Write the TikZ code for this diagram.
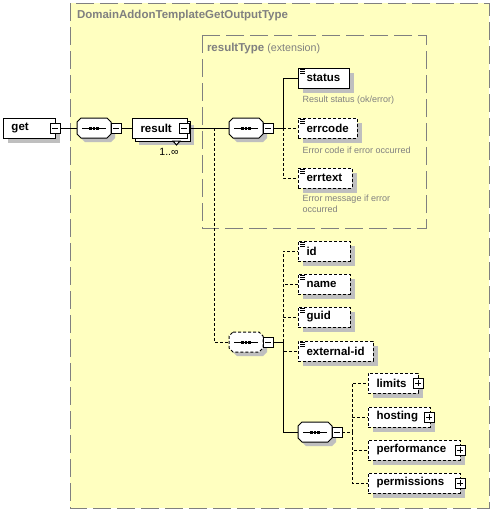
\documentclass[tikz,border=0pt]{standalone}
\usepackage{fontspec}
\setmainfont{Liberation Sans}
\definecolor{bgyellow}{RGB}{255,255,192}
\definecolor{framegray}{RGB}{128,128,128}
\definecolor{shgray}{rgb}{0.75,0.75,0.75}
\definecolor{descgray}{RGB}{128,128,128}
\newcommand\lblfnt{\fontsize{11.5}{13}\selectfont\bfseries\hyphenpenalty=10000\relax\exhyphenpenalty=10000\relax}
\newcommand\dscfnt{\fontsize{9}{11}\selectfont}
% shadow of a box given by its left x, centre y and width (picture units, y down)
\newcommand\shadowbox[4]{\fill[fill=shgray] ({#1+#4},{#2-10+#4}) rectangle ({#1+#3+#4},{#2+10+#4});}
% octagon centred at (#2,#3), 34 x 20, corners cut by 4
\newcommand\octo[3][]{\draw[#1] ({#2-13},{#3-10}) -- ({#2+13},{#3-10}) -- ({#2+17},{#3-6}) -- ({#2+17},{#3+6}) -- ({#2+13},{#3+10}) -- ({#2-13},{#3+10}) -- ({#2-17},{#3+6}) -- ({#2-17},{#3-6}) -- cycle;}
\newcommand\seqdraw[3][]{%
  \octo[fill=shgray, draw=none]{#2+4}{#3+4}%
  \octo[line width=1pt, fill=white, draw=black, #1]{#2}{#3}%
  \draw[line width=1pt] ({#2-12},#3) -- ({#2+12},#3);%
  \foreach \dx in {-3.6,0,3.6}{\fill[black] ({#2+\dx-1.3},{#3-1.5}) rectangle ({#2+\dx+1.3},{#3+1.5});}}
\begin{document}
\begin{tikzpicture}[x=1pt,y=-1pt,
  every node/.style={outer sep=0pt},
  lbl/.style={font=\lblfnt},
  dsc/.style={font=\dscfnt, text=descgray, inner sep=0pt, align=left},
  elem/.style={rectangle, draw=black, fill=white, line width=1pt, minimum height=20pt,
    inner ysep=0pt, inner xsep=8.5pt, text width=#1, align=left, lbl, anchor=west},
  opt/.style={dash pattern=on 3pt off 2pt},
  icon/.style={path picture={
    \foreach \d in {1,3,5}{\draw[black, line width=1pt, solid] ([shift={(2pt,-\d pt)}]path picture bounding box.north west) -- ++(5,0);}}},
  pmbox/.style={rectangle, draw=black, fill=white, line width=1pt, minimum size=10pt, inner sep=0pt, solid},
  minus/.style={pmbox, path picture={\draw[black, line width=1pt] ([xshift=-3pt]path picture bounding box.center) -- ([xshift=3pt]path picture bounding box.center);}},
  plus/.style={pmbox, path picture={\draw[black, line width=1pt] ([xshift=-3pt]path picture bounding box.center) -- ([xshift=3pt]path picture bounding box.center);
     \draw[black, line width=1pt] ([yshift=-3pt]path picture bounding box.center) -- ([yshift=3pt]path picture bounding box.center);}},
  seq/.style={rectangle, minimum width=34pt, minimum height=20pt, inner sep=0pt},
  wire/.style={line width=1pt, black},
  owire/.style={wire, dash pattern=on 3pt off 2pt},
  grp/.style={draw=framegray, line width=1pt, dash pattern=on 18pt off 6pt},
]
\useasboundingbox (0,0) rectangle (493,512);
% group frames
\fill[bgyellow] (70,3) rectangle (489,508);
\draw[grp] (70,3) rectangle (489,508);
\draw[grp] (202,35) rectangle (426,228);
\node[anchor=west, text=framegray, lbl, inner sep=0pt] (ttl) at (77,16) {DomainAddonTemplateGetOutputType};
\node[anchor=west, text=framegray, inner sep=0pt, font=\fontsize{10.7}{12}\selectfont] (rtitle) at (207,49) {{\fontsize{11.5}{13}\selectfont\bfseries resultType} (extension)};

% top-level element and first sequence
\shadowbox{3}{128}{52}{5}
\node[elem=35pt] (get) at (3,128) {get};
\node[minus] (getm) at (get.east) {};
\seqdraw{94}{128}
\node[seq] (seq1) at (94,128) {};
\node[minus] (seq1m) at (116,128) {};
\shadowbox{132}{128}{55}{7}
\draw[black, fill=white, line width=1pt] (135,121) rectangle (190,141);
\node[elem=38pt] (result) at (132,128) {result};
\draw[line width=1pt, fill=white] (173,141) -- (180,141) -- (176.5,145) -- cycle;
\node[minus] (resultm) at ([xshift=-3pt]result.east) {};
\node[font=\fontsize{10.5}{12}\selectfont, inner sep=0pt] (mult) at (169,152) {1..∞};

% resultType sequence
\seqdraw{246}{128}
\node[seq] (seq2) at (246,128) {};
\node[minus] (seq2m) at (268,128) {};
\shadowbox{298}{78}{51}{5}
\node[elem=34pt, icon] (status) at (298,78) {status};
\shadowbox{298}{128}{59}{5}
\node[elem=42pt, icon, opt] (errcode) at (298,128) {errcode};
\shadowbox{298}{178}{54}{5}
\node[elem=37pt, icon, opt] (errtext) at (298,178) {errtext};
\node[dsc, anchor=west] (d1) at (302.5,100.5) {Result status (ok/error)};
\node[dsc, anchor=west] (d2) at (302.5,150) {Error code if error occurred};
\node[dsc, anchor=north west] (d3) at (302.5,195) {Error message if error\\occurred};

% extension sequence
\seqdraw[dash pattern=on 3pt off 2pt]{246}{342}
\node[seq] (seq3) at (246,342) {};
\node[minus] (seq3m) at (268,342) {};
\shadowbox{298}{251}{52}{5}
\node[elem=35pt, icon, opt] (id) at (298,251) {id};
\shadowbox{298}{284}{52}{5}
\node[elem=35pt, icon, opt] (name) at (298,284) {name};
\shadowbox{298}{317}{52}{5}
\node[elem=35pt, icon, opt] (guid) at (298,317) {guid};
\shadowbox{298}{351}{75}{5}
\node[elem=58pt, icon, opt] (extid) at (298,351) {external-id};

% inner sequence of complex elements
\seqdraw{315}{432}
\node[seq] (seq4) at (315,432) {};
\node[minus] (seq4m) at (337,432) {};
\shadowbox{368}{383}{50}{5}
\node[elem=33pt, opt] (limits) at (368,383) {limits};
\node[plus] (limitsp) at (limits.east) {};
\shadowbox{368}{417}{62}{5}
\node[elem=45pt, opt] (hosting) at (368,417) {hosting};
\node[plus] (hostingp) at ([xshift=-1pt]hosting.east) {};
\shadowbox{368}{450}{92}{5}
\node[elem=75pt, opt] (performance) at (368,450) {performance};
\node[plus] (performancep) at (performance.east) {};
\shadowbox{368}{483}{92}{5}
\node[elem=75pt, opt] (permissions) at (368,483) {permissions};
\node[plus] (permissionsp) at (permissions.east) {};

% junctions
\coordinate (j1) at (214,128);
\coordinate (j2) at (283,128);
\coordinate (j3) at (283,342);
\coordinate (j4) at (352,432);

% connectors
\draw[wire] (getm.east) -- (seq1.west);
\draw[wire] (seq1m.east) -- (result.west);
\draw[owire] (j1) |- (seq3.west);
\draw[wire] (resultm.east) -- (seq2.west);
\draw[owire] (j2) -- (errcode.west);
\draw[owire] (j2) |- (errtext.west);
\draw[wire] (seq2m.east) -- (j2) |- (status.west);
\draw[owire] (j3) |- (id.west);
\draw[owire] (j3) |- (name.west);
\draw[owire] (j3) |- (guid.west);
\draw[owire] (j3) |- (extid.west);
\draw[wire] (seq3m.east) -- (j3) |- (seq4.west);
\draw[owire] (seq4m.east) -- (j4);
\draw[owire] (j4) |- (limits.west);
\draw[owire] (j4) |- (hosting.west);
\draw[owire] (j4) |- (performance.west);
\draw[owire] (j4) |- (permissions.west);
\end{tikzpicture}
\end{document}
